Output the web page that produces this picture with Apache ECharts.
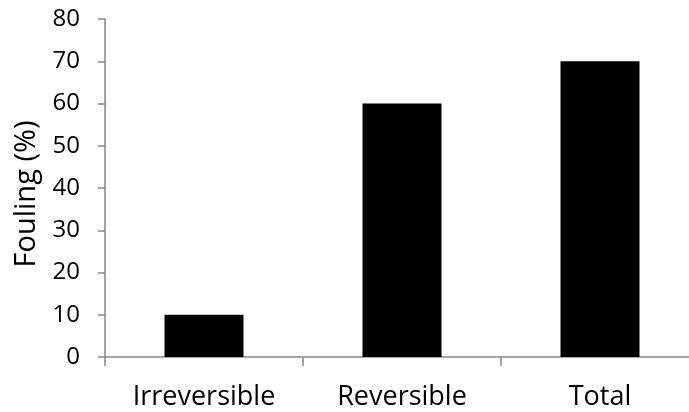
<!DOCTYPE html>
<html><head><meta charset="utf-8">
<script src="https://cdn.jsdelivr.net/npm/echarts@6/dist/echarts.min.js"></script>
<style>html,body{margin:0;padding:0;background:#fff}#c{width:689px;height:412px}</style>
</head><body><div id="c"></div>
<script>
const categories = ['Irreversible', 'Reversible', 'Total'];
const fouling = [10, 60, 70];
const yTicks = [0, 10, 20, 30, 40, 50, 60, 70, 80];

const chart = echarts.init(document.getElementById('c'), null, {renderer: 'canvas'});
const font = '"Open Sans", "Liberation Sans", sans-serif';
chart.setOption({
  animation: false,
  grid: {left: 105, width: 594, top: 19, bottom: 55, containLabel: false, outerBoundsMode: 'none'},
  xAxis: {
    type: 'category', data: categories,
    axisLine: {lineStyle: {color: '#868686', width: 1.5}},
    axisTick: {show: true, length: 9, alignWithLabel: false, lineStyle: {color: '#868686', width: 1.5}},
    axisLabel: {color: '#000', fontSize: 27, fontFamily: font, margin: 27}
  },
  yAxis: {
    type: 'value', min: yTicks[0], max: yTicks[yTicks.length - 1], interval: 10,
    name: 'Fouling (%)', nameLocation: 'middle', nameGap: 60, nameRotate: 90,
    nameTextStyle: {color: '#000', fontSize: 29, fontFamily: font, padding: [0, 12, 0, 0]},
    axisLine: {show: true, lineStyle: {color: '#868686', width: 1.5}},
    axisTick: {show: true, length: 7, lineStyle: {color: '#868686', width: 1.5}},
    splitLine: {show: false},
    axisLabel: {color: '#000', fontSize: 24, fontFamily: font, margin: 25}
  },
  series: [{
    type: 'bar', data: fouling, barWidth: 79,
    itemStyle: {color: '#000'}
  }]
});
</script></body></html>
